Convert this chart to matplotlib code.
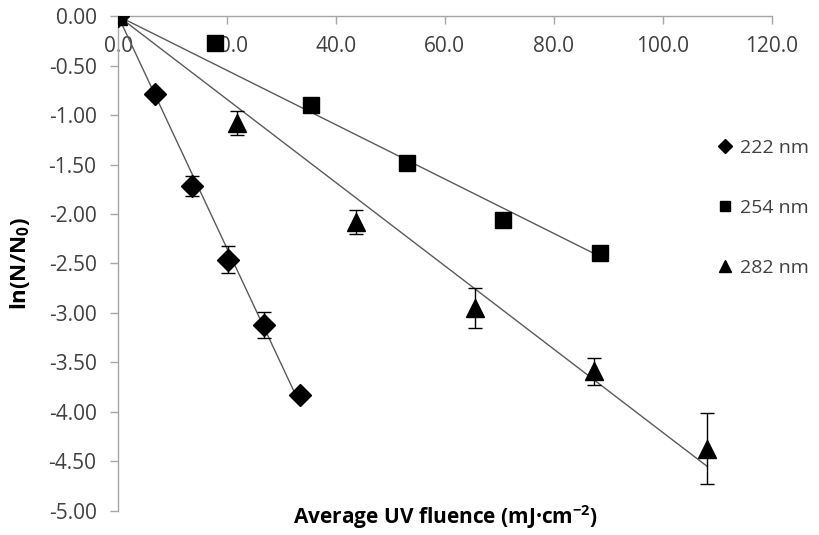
import numpy as np
import matplotlib
matplotlib.use("Agg")
import matplotlib.pyplot as plt
from matplotlib.ticker import FormatStrFormatter

## Global look (Excel-like)
plt.rcParams["font.family"] = ["Open Sans", "DejaVu Sans"]
plt.rcParams["font.size"] = 14
plt.rcParams["mathtext.default"] = "regular"

## Data (x = fluence in mJ/cm2, y = ln(N/N0), e = error)
x_222 = [0.0, 6.8, 13.5, 20.1, 26.8, 33.4]
y_222 = [0.0, -0.79, -1.72, -2.46, -3.12, -3.83]
e_222 = [0.0, 0.02, 0.10, 0.135, 0.13, 0.04]

x_254 = [0.0, 17.8, 35.5, 53.0, 70.7, 88.4]
y_254 = [0.0, -0.27, -0.90, -1.48, -2.06, -2.39]
e_254 = [0.0, 0.0, 0.0, 0.0, 0.0, 0.0]

x_282 = [0.0, 21.9, 43.7, 65.5, 87.3, 108.2]
y_282 = [0.0, -1.08, -2.08, -2.95, -3.59, -4.37]
e_282 = [0.0, 0.12, 0.125, 0.205, 0.135, 0.355]

labels = ["222 nm", "254 nm", "282 nm"]
markers = ["D", "s", "^"]
msizes = [11, 12, 13]

x_ticks = [0, 20, 40, 60, 80, 100, 120]
y_ticks = np.arange(-5.0, 0.01, 0.5)


def OriginFit(x, y):
    '''Least squares slope for a line forced through (0,0), like the Excel trendline.'''
    x = np.asarray(x)
    y = np.asarray(y)
    return np.sum(x * y) / np.sum(x * x)


fig = plt.figure(figsize=(8.2, 5.35), dpi=100)
ax = fig.add_axes([0.144, 0.045, 0.797, 0.925])

series = [(x_222, y_222, e_222), (x_254, y_254, e_254), (x_282, y_282, e_282)]
for (xs, ys, es), lab, mk, ms in zip(series, labels, markers, msizes):
    slope = OriginFit(xs, ys)
    xl = np.array([0.0, max(xs)])
    ax.plot(xl, slope * xl, color="#5a5a5a", linewidth=1.0, zorder=2)
    ax.errorbar(xs, ys, yerr=es, fmt=mk, color="black", markersize=ms,
                ecolor="black", elinewidth=1.0, capsize=5, capthick=1.0,
                label=lab, zorder=3)

ax.set_xlim(0, 120)
ax.set_ylim(-5, 0)
ax.set_xticks(x_ticks)
ax.set_yticks(y_ticks)
ax.xaxis.set_major_formatter(FormatStrFormatter("%.1f"))
ax.yaxis.set_major_formatter(FormatStrFormatter("%.2f"))

## x axis sits on y=0 (top), labels below it
ax.spines["bottom"].set_position(("data", 0))
ax.spines["top"].set_visible(False)
ax.spines["right"].set_visible(False)
for sp in ["bottom", "left"]:
    ax.spines[sp].set_color("#a6a6a6")
    ax.spines[sp].set_linewidth(1.0)
ax.tick_params(axis="both", colors="#a6a6a6", labelcolor="#404040",
               length=5.5, width=1.0, direction="out", labelsize=15)
ax.tick_params(axis="x", pad=9)
ax.tick_params(axis="y", pad=10)

ax.set_ylabel("ln(N/N$_0$)", fontsize=16, fontweight="bold")
ax.yaxis.set_label_coords(-0.132, 0.5)
fig.text(0.543, 0.008, "Average UV fluence (mJ\u00b7cm$^{-2}$)", fontsize=15,
         fontweight="bold", ha="center", va="bottom")

handles, labs = ax.get_legend_handles_labels()
handles = [h[0] for h in handles]
leg = ax.legend(handles, labs, loc="center left", bbox_to_anchor=(0.916, 0.612),
                frameon=False, markerscale=0.65, labelspacing=2.15,
                handlelength=0.8, handletextpad=0.4, fontsize=14,
                borderaxespad=0, borderpad=0)
for t in leg.get_texts():
    t.set_color("#404040")

fig.savefig("out.png", dpi=100)
